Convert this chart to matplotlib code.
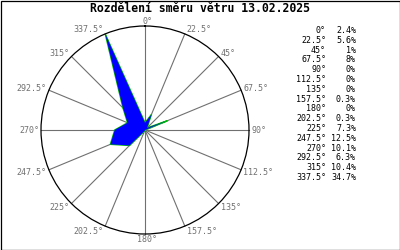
import numpy as np
import matplotlib
matplotlib.use("Agg")
import matplotlib.pyplot as plt
from matplotlib.patches import Rectangle

# ---- data ----
title = "Rozdělení směru větru 13.02.2025"
directions = [0, 22.5, 45, 67.5, 90, 112.5, 135, 157.5, 180, 202.5, 225, 247.5, 270, 292.5, 315, 337.5]
dir_labels = ["0°", "22.5°", "45°", "67.5°", "90°", "112.5°", "135°", "157.5°", "180°",
              "202.5°", "225°", "247.5°", "270°", "292.5°", "315°", "337.5°"]
percents = [2.4, 5.6, 1, 8, 0, 0, 0, 0.3, 0, 0.3, 7.3, 12.5, 10.1, 6.3, 10.4, 34.7]
pct_labels = ["2.4%", "5.6%", "1%", "8%", "0%", "0%", "0%", "0.3%", "0%", "0.3%",
              "7.3%", "12.5%", "10.1%", "6.3%", "10.4%", "34.7%"]

W, H = 400, 250
fig = plt.figure(figsize=(W / 100, H / 100), dpi=100)
fig.patch.set_facecolor("white")
mono = "DejaVu Sans Mono"
gray = "#707070"

# overlay axes in pixel coords
ov = fig.add_axes([0, 0, 1, 1])
ov.set_xlim(0, W)
ov.set_ylim(H, 0)
ov.axis("off")
ov.add_patch(Rectangle((0.5, 0.5), W - 1, H - 1, fill=False, edgecolor="black", lw=0.9))
ov.text(200, 8.5, title, ha="center", va="center", family=mono, fontsize=8.3,
        fontweight="bold", color="black")

y0, dy = 30.5, 9.8
for i, (dl, pl) in enumerate(zip(dir_labels, pct_labels)):
    y = y0 + i * dy
    ov.text(326, y, dl, ha="right", va="center", family=mono, fontsize=6, color="black")
    ov.text(356, y, pl, ha="right", va="center", family=mono, fontsize=6, color="black")

# polar axes
cx, cy, R = 145, 130, 104
ax = fig.add_axes([(cx - R) / W, (H - cy - R) / H, 2 * R / W, 2 * R / H], projection="polar")
ax.set_theta_zero_location("N")
ax.set_theta_direction(-1)
rmax = max(percents)
ax.set_ylim(0, rmax)
ax.grid(False)
ax.set_xticks([])
ax.set_yticks([])
ax.set_facecolor("none")
ax.spines["polar"].set_color("black")
ax.spines["polar"].set_linewidth(0.9)

th = np.deg2rad(directions)
for t in th:
    ax.plot([t, t], [0, rmax], color=gray, lw=0.8, zorder=1, clip_on=False)

thc = np.append(th, th[0])
pc = np.append(percents, percents[0])
ax.plot(thc, pc, color="#00c000", lw=1.0, zorder=2)
ax.fill(thc, pc, color="#0000ff", lw=0, zorder=3)

for t, lab in zip(th, dir_labels):
    s, c = np.sin(t), np.cos(t)
    if s > 0.01:
        ha, dx = "left", 2
    elif s < -0.01:
        ha, dx = "right", -2
    else:
        ha, dx = "center", 2
    ax.annotate(lab, xy=(t, rmax), xytext=(dx, 5 * c - 0.5), textcoords="offset pixels",
                ha=ha, va="center", family=mono, fontsize=6, color=gray,
                annotation_clip=False)

fig.savefig("out.png", dpi=100)
